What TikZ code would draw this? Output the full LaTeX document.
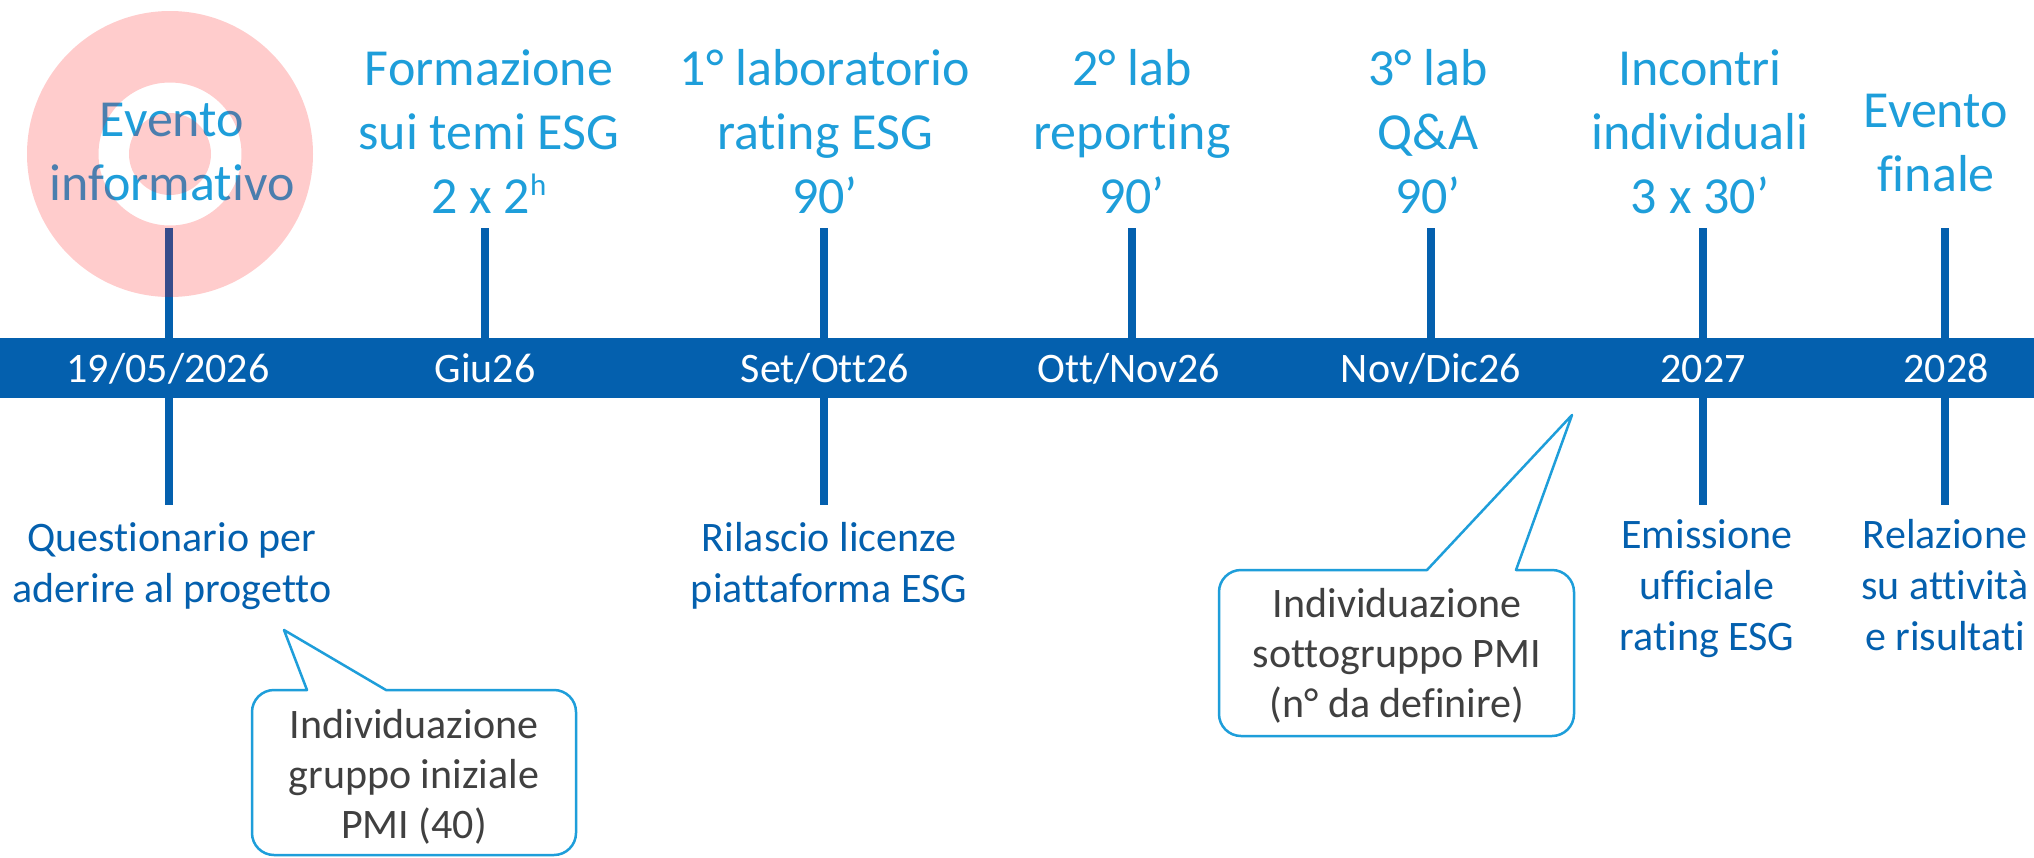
\documentclass[tikz,border=0pt]{standalone}
\usepackage{fontspec}
\setmainfont{Carlito}[Ligatures=NoCommon]
\definecolor{barblue}{RGB}{4,96,174}
\definecolor{topblue}{RGB}{30,158,218}
\definecolor{calltext}{RGB}{64,64,64}
\newcommand{\suph}{\raisebox{18pt}{\fontsize{31}{31}\selectfont h}}
\begin{document}
\begin{tikzpicture}[x=1pt,y=1pt,
  toplab/.style={text=topblue, font=\fontsize{52}{64}\selectfont, align=center, inner sep=0pt, anchor=base},
  barlab/.style={text=white, font=\fontsize{42}{50}\selectfont, inner sep=0pt, anchor=base},
  botlab/.style={text=barblue, font=\fontsize{42}{51}\selectfont, align=center, inner sep=0pt, anchor=base},
  calllab/.style={text=calltext, font=\fontsize{42}{50}\selectfont, align=center, inner sep=0pt, anchor=base},
  tickline/.style={draw=barblue, line width=8pt},
  callout/.style={draw=topblue, line width=2.5pt, fill=white, line join=round}]
\useasboundingbox (0,0) rectangle (2034,-857);
\fill[white] (0,0) rectangle (2034,-857);
% timeline bar
\fill[barblue] (0,-338) rectangle (2034,-398);
\foreach \i/\x in {1/169,2/485,3/824,4/1132,5/1431,6/1703,7/1945} {
  \coordinate (top\i) at (\x,-228);
  \coordinate (bt\i) at (\x,-339);
  \coordinate (bb\i) at (\x,-397);
  \coordinate (low\i) at (\x,-505);
}
\foreach \i in {1,...,7} { \draw[tickline] (top\i) -- (bt\i); }
\foreach \i in {1,3,6,7} { \draw[tickline] (bb\i) -- (low\i); }
% bar labels
\node[barlab] (d1) at (168,-382) {19/05/2026};
\node[barlab] (d2) at (485,-382) {Giu26};
\node[barlab] (d3) at (825,-382) {Set/Ott26};
\node[barlab] (d4) at (1129,-382) {Ott/Nov26};
\node[barlab] (d5) at (1431,-382) {Nov/Dic26};
\node[barlab] (d6) at (1703,-382) {2027};
\node[barlab] (d7) at (1946,-382) {2028};
% top labels (anchor = baseline of last line)
\node[toplab] (e1) at (172,-200) {Evento\\informativo};
\node[toplab] (e2) at (489,-213) {Formazione\\sui temi ESG\\2 x 2\suph};
\node[toplab] (e3) at (825,-213) {1° laboratorio\\rating ESG\\90’};
\node[toplab] (e4) at (1132,-213) {2° lab\\reporting\\90’};
\node[toplab] (e5) at (1428,-213) {3° lab\\Q\&A\\90’};
\node[toplab] (e6) at (1700,-213) {Incontri\\individuali\\3 x 30’};
\node[toplab] (e7) at (1936,-191) {Evento\\finale};
% bottom labels
\node[botlab] (q1) at (172,-602) {Questionario per\\aderire al progetto};
\node[botlab] (q3) at (829,-602) {Rilascio licenze\\piattaforma ESG};
\node[botlab] (q6) at (1707,-650) {Emissione\\ufficiale\\rating ESG};
\node[botlab] (q7) at (1945,-650) {Relazione\\su attività\\e risultati};
% highlight ring
\fill[red, opacity=0.2, even odd rule] (170,-154) circle[radius=143] (170,-154) circle[radius=71.5] (170,-154) circle[radius=41];
% callout 1
\draw[callout] (307,-690) -- (284,-630) -- (386,-690) -- (554,-690) arc[start angle=90,end angle=0,radius=22]
  -- (576,-833) arc[start angle=0,end angle=-90,radius=22]
  -- (274,-855) arc[start angle=-90,end angle=-180,radius=22]
  -- (252,-712) arc[start angle=180,end angle=90,radius=22] -- cycle;
\node[calllab] (c1) at (414,-838) {Individuazione\\gruppo iniziale\\PMI (40)};
% callout 2
\draw[callout] (1427,-570) -- (1572,-415) -- (1516,-570) -- (1552,-570) arc[start angle=90,end angle=0,radius=22]
  -- (1574,-714) arc[start angle=0,end angle=-90,radius=22]
  -- (1241,-736) arc[start angle=-90,end angle=-180,radius=22]
  -- (1219,-592) arc[start angle=180,end angle=90,radius=22] -- cycle;
\node[calllab] (c2) at (1397,-717) {Individuazione\\sottogruppo PMI\\(n° da definire)};
\end{tikzpicture}
\end{document}
